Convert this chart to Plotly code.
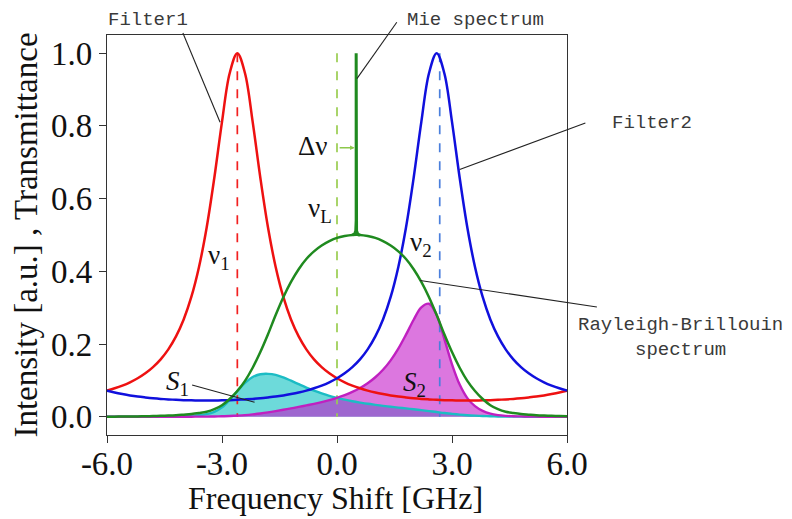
import plotly.graph_objects as go

# ---------------- data ----------------
freq = [round(-6 + 0.2 * i, 1) for i in range(61)]

rb_spectrum = [0.0004, 0.0005, 0.0007, 0.0009, 0.0012, 0.0015, 0.0021, 0.0027, 0.0034, 0.0044,
               0.006, 0.0077, 0.0105, 0.014, 0.021, 0.032, 0.049, 0.071, 0.099, 0.135,
               0.178, 0.227, 0.280, 0.329, 0.371, 0.406, 0.434, 0.455, 0.471, 0.483,
               0.492, 0.497, 0.500, 0.500, 0.497, 0.492, 0.483, 0.471, 0.455, 0.434,
               0.406, 0.371, 0.329, 0.280, 0.227, 0.178, 0.135, 0.099, 0.071, 0.049,
               0.032, 0.021, 0.014, 0.0105, 0.0077, 0.006, 0.0044, 0.0034, 0.0027, 0.0021,
               0.0015]

filter1 = [0.0721, 0.0784, 0.0858, 0.0949, 0.1060, 0.1196, 0.1367, 0.1581, 0.1855, 0.2211,
           0.2677, 0.3296, 0.4121, 0.5206, 0.6574, 0.8112, 0.9449, 1.0, 0.9449, 0.8112,
           0.6574, 0.5206, 0.4121, 0.3296, 0.2677, 0.2211, 0.1855, 0.1581, 0.1367, 0.1196,
           0.1060, 0.0949, 0.0858, 0.0784, 0.0721, 0.0669, 0.0626, 0.0589, 0.0558, 0.0533,
           0.0511, 0.0493, 0.0479, 0.0468, 0.0459, 0.0453, 0.0450, 0.0448, 0.0450, 0.0453,
           0.0459, 0.0468, 0.0479, 0.0493, 0.0511, 0.0533, 0.0558, 0.0589, 0.0626, 0.0669,
           0.0721]

filter2 = [0.0721, 0.0669, 0.0626, 0.0589, 0.0558, 0.0533, 0.0511, 0.0493, 0.0479, 0.0468,
           0.0459, 0.0453, 0.0450, 0.0448, 0.0450, 0.0453, 0.0459, 0.0468, 0.0479, 0.0493,
           0.0511, 0.0533, 0.0558, 0.0589, 0.0626, 0.0669, 0.0721, 0.0784, 0.0858, 0.0949,
           0.1060, 0.1196, 0.1367, 0.1581, 0.1855, 0.2211, 0.2677, 0.3296, 0.4121, 0.5206,
           0.6574, 0.8112, 0.9449, 1.0, 0.9449, 0.8112, 0.6574, 0.5206, 0.4121, 0.3296,
           0.2677, 0.2211, 0.1855, 0.1581, 0.1367, 0.1196, 0.1060, 0.0949, 0.0858, 0.0784,
           0.0721]

s1 = [0.00003, 0.00004, 0.00006, 0.00009, 0.00013, 0.00018, 0.00029, 0.00043, 0.00063, 0.00097,
      0.0016, 0.0025, 0.0043, 0.0073, 0.0138, 0.0260, 0.0463, 0.0710, 0.0935, 0.1095,
      0.1170, 0.1182, 0.1154, 0.1084, 0.0993, 0.0898, 0.0805, 0.0719, 0.0644, 0.0578,
      0.0522, 0.0472, 0.0429, 0.0392, 0.0358, 0.0329, 0.0302, 0.0277, 0.0254, 0.0231,
      0.0207, 0.0183, 0.0158, 0.0131, 0.0104, 0.0081, 0.0061, 0.0044, 0.0032, 0.0022,
      0.0015, 0.0010, 0.0007, 0.0005, 0.0004, 0.0003, 0.0002, 0.0002, 0.0002, 0.0001,
      0.0001]

s2 = [0.00003, 0.00003, 0.00004, 0.00005, 0.00007, 0.00008, 0.00011, 0.00013, 0.00016, 0.00021,
      0.00028, 0.00035, 0.00047, 0.00063, 0.00095, 0.0015, 0.0022, 0.0033, 0.0047, 0.0067,
      0.0091, 0.0121, 0.0156, 0.0194, 0.0232, 0.0272, 0.0313, 0.0357, 0.0404, 0.0458,
      0.0522, 0.0594, 0.0684, 0.0791, 0.0922, 0.1088, 0.1293, 0.1552, 0.1875, 0.2259,
      0.2669, 0.3010, 0.3109, 0.2800, 0.2145, 0.1444, 0.0887, 0.0515, 0.0293, 0.0162,
      0.0086, 0.0046, 0.0026, 0.0017, 0.0011, 0.0007, 0.0005, 0.0003, 0.0002, 0.0002,
      0.0001]

mie_x = [0.40, 0.46, 0.49, 0.50, 0.50, 0.51, 0.54, 0.60]
mie_y = [0.500, 0.503, 0.512, 0.540, 1.000, 0.512, 0.503, 0.499]

nu1, nuL, nu2 = -2.6, 0.0, 2.68
marker_top = 1.0
xticks = [-6, -3, 0, 3, 6]
xticklabels = ["-6.0", "-3.0", "0.0", "3.0", "6.0"]
yticks = [0.0, 0.2, 0.4, 0.6, 0.8, 1.0]
yticklabels = ["0.0", "0.2", "0.4", "0.6", "0.8", "1.0"]

# ---------------- figure ----------------
RED = "#ee1111"
BLUE = "#1010dd"
GREEN = "#1f8a1f"
CYAN = "#1cbcc4"
MAG = "#c020c0"

fig = go.Figure()

# filled areas
fig.add_trace(go.Scatter(x=freq, y=s1, mode="lines", line=dict(width=0, shape="spline"),
                         fill="tozeroy", fillcolor="rgba(20,195,195,0.62)", hoverinfo="skip"))
fig.add_trace(go.Scatter(x=freq, y=s2, mode="lines", line=dict(width=0, shape="spline"),
                         fill="tozeroy", fillcolor="rgba(195,20,200,0.58)", hoverinfo="skip"))

# dashed centre lines
fig.add_trace(go.Scatter(x=[nu1, nu1], y=[marker_top, 0], mode="lines",
                         line=dict(color="#f22020", width=1.7, dash="dash")))
fig.add_trace(go.Scatter(x=[nuL, nuL], y=[marker_top, 0], mode="lines",
                         line=dict(color="#9acd50", width=1.7, dash="dash")))
fig.add_trace(go.Scatter(x=[nu2, nu2], y=[marker_top, 0], mode="lines",
                         line=dict(color="#4a7fdc", width=1.7, dash="dash")))

# curves
fig.add_trace(go.Scatter(x=freq, y=s1, mode="lines", line=dict(color=CYAN, width=2.4, shape="spline")))
fig.add_trace(go.Scatter(x=freq, y=s2, mode="lines", line=dict(color=MAG, width=2.4, shape="spline")))
fig.add_trace(go.Scatter(x=freq, y=filter1, mode="lines", line=dict(color=RED, width=2.5, shape="spline")))
fig.add_trace(go.Scatter(x=freq, y=filter2, mode="lines", line=dict(color=BLUE, width=2.5, shape="spline")))
fig.add_trace(go.Scatter(x=freq, y=rb_spectrum, mode="lines", line=dict(color=GREEN, width=2.5, shape="spline")))
fig.add_trace(go.Scatter(x=mie_x, y=mie_y, mode="lines", line=dict(color=GREEN, width=3)))

# helpers: data -> paper
def px_(x):
    return (x + 6) / 12.0

def py_(y):
    return (y + 0.05) / 1.1

LINE = dict(color="#222222", width=1.1)
shapes = [
    dict(type="line", xref="paper", yref="paper", x0=0.165, y0=1.005, x1=px_(-3.05), y1=py_(0.81), line=LINE),
    dict(type="line", xref="paper", yref="paper", x0=0.630, y0=1.032, x1=px_(0.52), y1=py_(0.93), line=LINE),
    dict(type="line", xref="paper", yref="paper", x0=1.040, y0=0.780, x1=px_(3.2), y1=py_(0.68), line=LINE),
    dict(type="line", xref="paper", yref="paper", x0=1.065, y0=0.320, x1=px_(2.17), y1=py_(0.375), line=LINE),
    dict(type="line", xref="paper", yref="paper", x0=0.185, y0=0.125, x1=px_(-2.15), y1=py_(0.04), line=LINE),
]

SERIF = "Liberation Serif, Times New Roman, serif"
MONO = dict(family="Liberation Mono, DejaVu Sans Mono, monospace", size=19, color="#3a3a3a")
GREEK = dict(family="Liberation Serif, DejaVu Serif, serif", size=27, color="#111111")
C = dict(xanchor="center", yanchor="middle", showarrow=False)
annotations = [
    dict(text="Filter1", xref="paper", yref="paper", x=0.089, y=1.038, font=MONO, **C),
    dict(text="Mie spectrum", xref="paper", yref="paper", x=0.80, y=1.038, font=MONO, **C),
    dict(text="Filter2", xref="paper", yref="paper", x=1.185, y=0.78, font=MONO, **C),
    dict(text="Rayleigh-Brillouin<br>spectrum", xref="paper", yref="paper", x=1.246, y=0.245,
         font=MONO, align="center", **C),
    dict(text="Δν", x=-0.63, y=0.745, font=GREEK, **C),
    dict(text="ν<sub>L</sub>", x=-0.44, y=0.57, font=GREEK, **C),
    dict(text="ν<sub>1</sub>", x=-3.08, y=0.44, font=GREEK, **C),
    dict(text="ν<sub>2</sub>", x=2.19, y=0.476, font=GREEK, **C),
    dict(text="<i>S</i><sub>1</sub>", x=-4.17, y=0.094, font=GREEK, **C),
    dict(text="<i>S</i><sub>2</sub>", x=2.03, y=0.091, font=GREEK, **C),
    dict(text="Frequency Shift [GHz]", xref="paper", yref="paper", x=0.497, y=-0.158,
         font=dict(family=SERIF, size=32, color="#111"), **C),
    dict(text="", x=0.46, y=0.74, ax=0.03, ay=0.74, axref="x", ayref="y", showarrow=True,
         arrowhead=2, arrowsize=0.7, arrowwidth=1.3, arrowcolor="#8cc84b"),
]

# the page body adds an 8px offset, so margins are shifted to keep the plot area in place
fig.update_layout(
    width=792, height=519,
    margin=dict(l=99, r=233, t=27, b=92),
    plot_bgcolor="white", paper_bgcolor="white",
    showlegend=False,
    shapes=shapes,
    annotations=annotations,
    xaxis=dict(range=[-6, 6], tickvals=xticks, ticktext=xticklabels, ticks="outside", ticklen=7,
               tickcolor="#333", showline=True, mirror=True, linecolor="#333", linewidth=1.2,
               showgrid=False, zeroline=False, automargin=False, ticklabelstandoff=-8,
               tickfont=dict(family=SERIF, size=33, color="#111")),
    yaxis=dict(range=[-0.05, 1.05], tickvals=yticks, ticktext=yticklabels, ticks="outside", ticklen=7,
               tickcolor="#333", showline=True, mirror=True, linecolor="#333", linewidth=1.2,
               showgrid=False, zeroline=False, automargin=False,
               tickfont=dict(family=SERIF, size=33, color="#111"),
               title=dict(text="Intensity [a.u.] , Transmittance",
                          font=dict(family=SERIF, size=33, color="#111"), standoff=6)),
)

fig.write_html("out.html")
